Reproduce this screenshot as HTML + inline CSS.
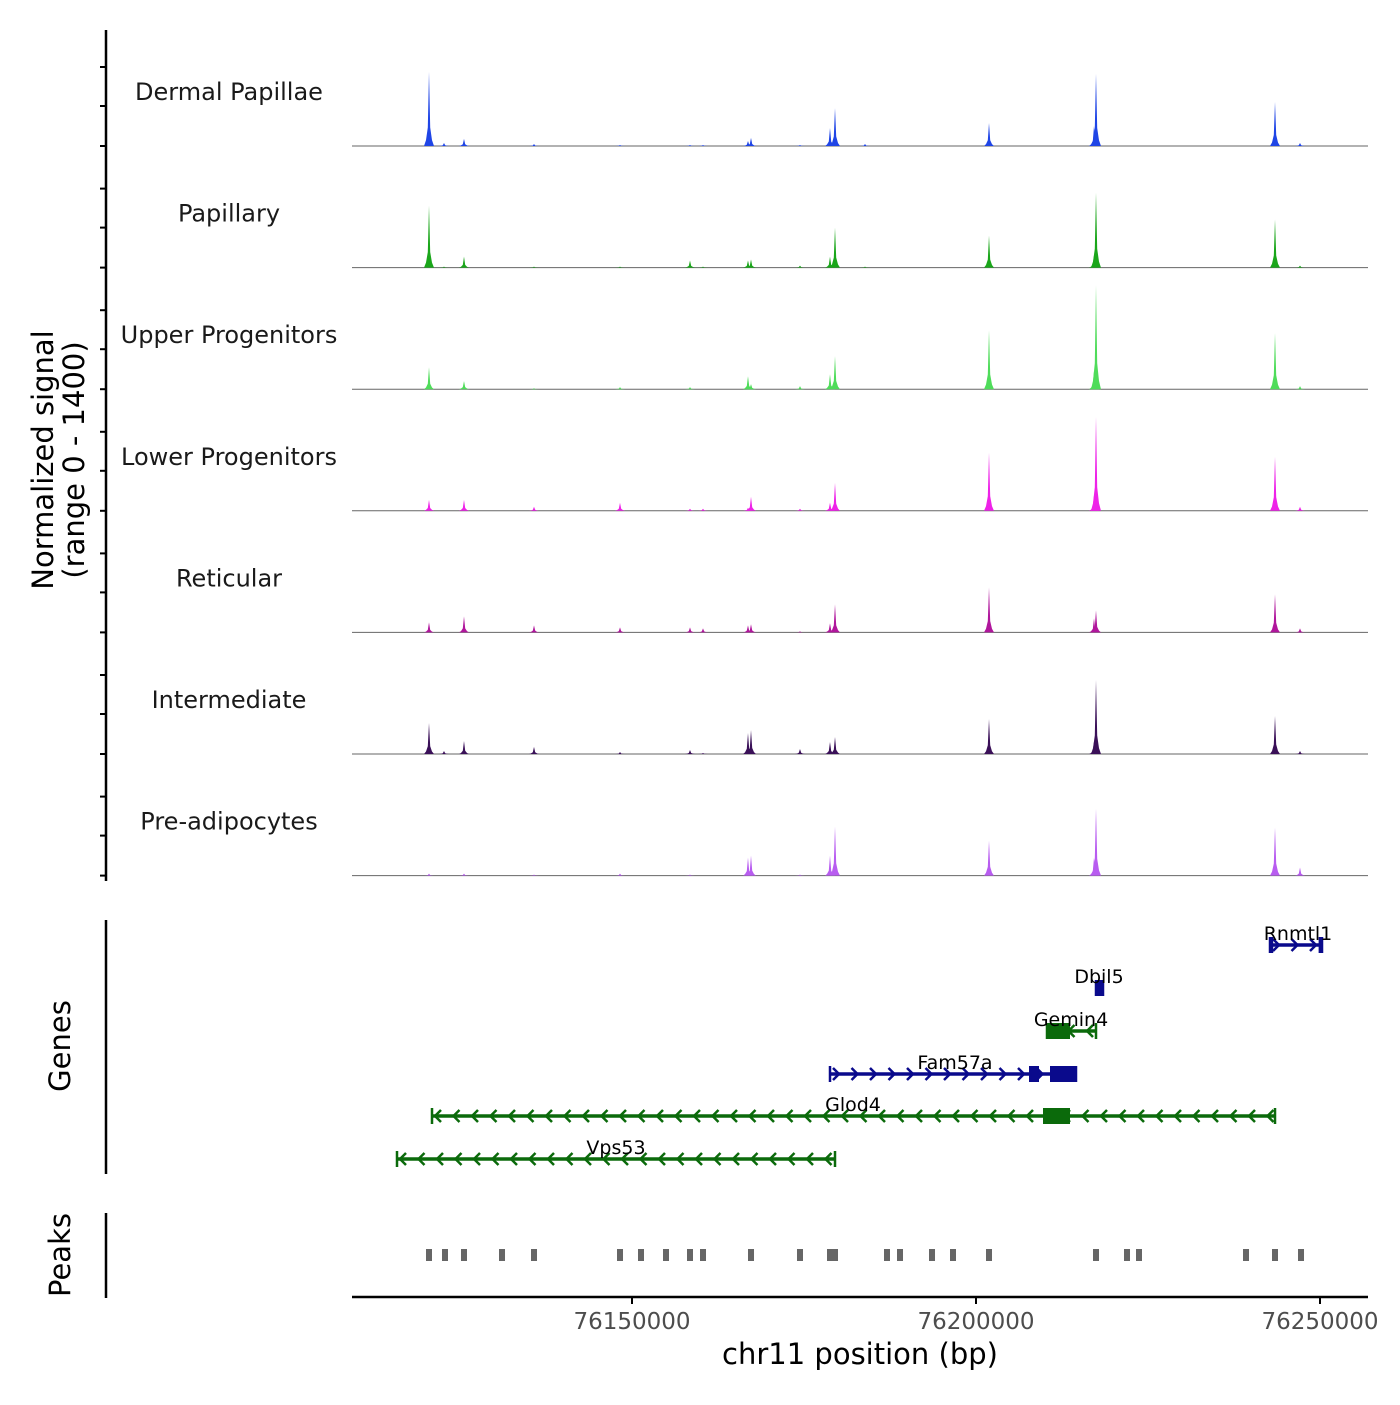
<!DOCTYPE html>
<html><head><meta charset="utf-8"><style>
html,body{margin:0;padding:0;background:#fff}
svg text{font-family:"DejaVu Sans","Liberation Sans",sans-serif}
</style></head><body>
<svg id="chart" width="1400" height="1400" xmlns="http://www.w3.org/2000/svg">
<g id="tracks"></g>
<g id="genes"></g>
<g id="peaks"></g>
<g id="axes"></g>
</svg>
<script>
const trackNames = ["Dermal Papillae","Papillary","Upper Progenitors","Lower Progenitors","Reticular","Intermediate","Pre-adipocytes"];
const trackColors = ["#1f45e6","#1aa61a","#4fdc5a","#ee22e8","#b0169c","#3a1058","#b85cf0"];
const peakPos = [76120494,76122674,76125581,76135756,76148256,76158430,76160320,76166860,76167297,76174418,76178779,76179506,76183867,76201890,76217152,76217442,76243460,76247094];
const sigDermal = [880,36,84,24,12,12,12,60,96,12,214,450,24,273,237,855,522,36];
const sigPapillary = [736,12,130,12,12,84,12,84,96,24,130,475,12,380,142,890,570,24];
const sigUpper = [261,0,96,12,24,24,0,154,60,36,178,392,0,700,214,1234,665,36];
const sigLower = [130,0,130,48,96,24,24,36,166,24,96,332,0,688,178,1115,641,48];
const sigReticular = [119,0,190,84,60,60,48,84,96,12,107,332,0,534,166,261,451,48];
const sigIntermediate = [368,36,154,84,24,48,12,249,285,60,142,202,0,415,142,878,451,36];
const sigPreadipo = [24,0,24,12,24,12,0,214,237,12,237,581,0,415,214,795,570,96];
const signals = [sigDermal,sigPapillary,sigUpper,sigLower,sigReticular,sigIntermediate,sigPreadipo];

const geneNames = ["Rnmtl1","Dbil5","Gemin4","Fam57a","Glod4","Vps53"];
const geneStart = [76242733,76217442,76210320,76178779,76120930,76115843];
const geneEnd = [76250292,76218460,76217442,76214535,76243460,76179506];
const geneStrand = ["+","+","-","+","-","-"];
const geneExons = [[[76242733,76243200],[76249800,76250292]],[[76217442,76218460]],[[76210320,76213663]],[[76207704,76209157],[76210756,76214535]],[[76209739,76213663]],[]];
const peakRegions = [76120494,76122819,76125581,76131105,76135756,76148256,76151308,76154942,76158430,76160320,76167297,76174418,76178779,76179506,76187064,76188954,76193605,76196657,76201890,76217442,76221948,76223692,76239245,76243460,76247240];
const xTicks = [76150000,76200000,76250000];
const xTickLabels = ["76150000","76200000","76250000"];

const NS="http://www.w3.org/2000/svg";
function mk(tag,attrs,parent){const e=document.createElementNS(NS,tag);for(const k in attrs)e.setAttribute(k,attrs[k]);parent.appendChild(e);return e;}
const X0=352,X1=1368,BP0=76109302,BP1=76256977;
function xs(bp){return X0+(bp-BP0)/(BP1-BP0)*(X1-X0);}
const trackH=121.6, base0=146;
function ys(v,i){return base0+i*trackH - v/1400*118;}

const tg=document.getElementById('tracks');
signals.forEach((sig,i)=>{
  const g=mk('g',{},tg);
  
  
  const lbl=mk('text',{x:229,y:100+i*trackH,'text-anchor':'middle','font-size':24,fill:'#1a1a1a'},g);
  lbl.textContent=trackNames[i];
  
  
  const b=base0+i*trackH;
  const bl=mk('line',{x1:X0,x2:X1,y1:b,y2:b,stroke:'#666','stroke-width':1},g);
  
  
  sig.forEach((v,j)=>{
    if(v<=0)return;
    const x=xs(peakPos[j]), y=ys(v,i);
    const h=b-y;
    const d=`M${x-5},${b} L${x-3},${b-h*0.08} L${x-1.2},${b-h*0.25} L${x},${y} L${x+1.2},${b-h*0.25} L${x+3},${b-h*0.08} L${x+5},${b} Z`;
    const p=mk('path',{d:d,fill:trackColors[i]},g);
    
    
  });
});

const gg=document.getElementById('genes');
const rowY=[945,988,1031,1074,1116,1159];
const labelX={Rnmtl1:1298,Glod4:853,Fam57a:955,Vps53:616,Gemin4:1071,Dbil5:1099};
geneNames.forEach((n,i)=>{
  const col=(geneStrand[i]==='+')?'#0a0a8c':'#0b6a0b';
  const y=rowY[i], xa=xs(geneStart[i]), xb=xs(geneEnd[i]);
  const g=mk('g',{},gg);
  
  
  mk('line',{x1:xa,x2:xb,y1:y,y2:y,stroke:col,'stroke-width':3.5},g);
  mk('line',{x1:xa,x2:xa,y1:y-8,y2:y+8,stroke:col,'stroke-width':2.5},g);
  mk('line',{x1:xb,x2:xb,y1:y-8,y2:y+8,stroke:col,'stroke-width':2.5},g);
  for(let x=xa+6;x<xb-4;x+=18.5){
    const dd=geneStrand[i]==='+'?`M${x-3},${y-6} L${x+3},${y} L${x-3},${y+6}`:`M${x+3},${y-6} L${x-3},${y} L${x+3},${y+6}`;
    mk('path',{d:dd,stroke:col,'stroke-width':2.5,fill:'none'},g);
  }
  geneExons[i].forEach(ex=>{
    const r=mk('rect',{x:xs(ex[0]),y:y-8,width:Math.max(3,xs(ex[1])-xs(ex[0])),height:16,fill:col},g);
    
    
  });
  const t=mk('text',{x:labelX[n],y:y-5,'text-anchor':'middle','font-size':19,fill:'#000'},g);
  t.textContent=n;
  
  
});

const pg=document.getElementById('peaks');
peakRegions.forEach(p=>{
  const r=mk('rect',{x:xs(p)-3,y:1249,width:6,height:12,fill:'#666'},pg);
  
  
});

const ag=document.getElementById('axes');
const yl=mk('line',{x1:106,x2:106,y1:30,y2:881,stroke:'#000','stroke-width':2.5},ag);


for(let i=0;i<7;i++){
  const b=base0+i*trackH;
  [0,40,79].forEach(o=>mk('line',{x1:100,x2:106,y1:b-o,y2:b-o,stroke:'#000','stroke-width':2},ag));
}
const gl=mk('line',{x1:106,x2:106,y1:920,y2:1174,stroke:'#000','stroke-width':2.5},ag);


const pl=mk('line',{x1:106,x2:106,y1:1213,y2:1298,stroke:'#000','stroke-width':2.5},ag);


const xl=mk('line',{x1:X0,x2:X1,y1:1297,y2:1297,stroke:'#000','stroke-width':2.5},ag);


xTicks.forEach((t,i)=>{
  mk('line',{x1:xs(t),x2:xs(t),y1:1297,y2:1304,stroke:'#000','stroke-width':2},ag);
  const tx=mk('text',{x:xs(t),y:1329,'text-anchor':'middle','font-size':23,fill:'#4d4d4d'},ag);
  tx.textContent=xTickLabels[i];
  
  
});
</script>
<svg style="position:absolute;left:0;top:0" width="1400" height="1400">
<text x="860" y="1364" text-anchor="middle" font-size="29" fill="#000">chr11 position (bp)</text>
<text transform="translate(53,460) rotate(-90)" text-anchor="middle" font-size="29" fill="#000">Normalized signal</text>
<text transform="translate(84,460) rotate(-90)" text-anchor="middle" font-size="29" fill="#000">(range 0 - 1400)</text>
<text transform="translate(70,1046) rotate(-90)" text-anchor="middle" font-size="29" fill="#000">Genes</text>
<text transform="translate(70,1255) rotate(-90)" text-anchor="middle" font-size="29" fill="#000">Peaks</text>
</svg>
</body></html>
